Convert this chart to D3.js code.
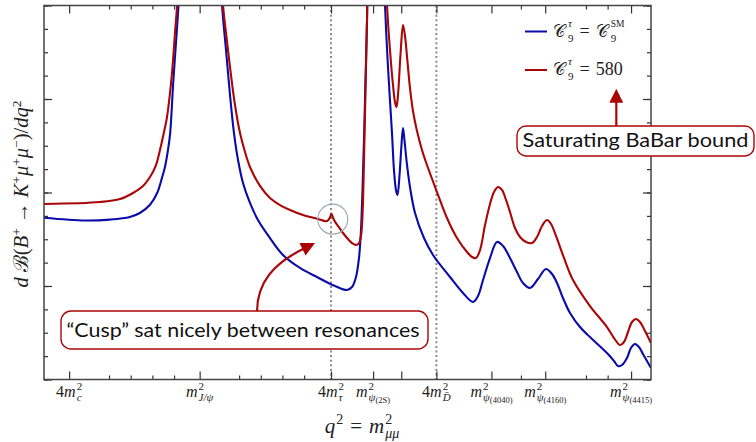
<!DOCTYPE html>
<html>
<head>
<meta charset="utf-8">
<script src="https://cdn.jsdelivr.net/npm/d3@7"></script>
<style>
  body { margin: 0; background: #fff; }
  text { font-family: "Liberation Serif", "DejaVu Serif", serif; fill: #222; white-space: pre; }
  .note { font-family: "Lato", "DejaVu Sans", sans-serif; fill: #111; }
</style>
</head>
<body>
<svg id="chart" width="756" height="442"></svg>
<script>
// x: q^2 (GeV^2), y: dB/dq^2 (arbitrary units)
var qSM = [6.00, 6.95, 7.52, 7.98, 8.21, 8.44, 8.61, 8.72, 8.79, 8.86, 8.91, 8.98, 9.06, 9.11, 9.59,
  10.105, 10.198, 10.29, 10.382, 10.475, 10.59, 10.751, 10.935, 11.212, 11.512, 11.904, 12.296, 12.711, 12.988,
  13.104, 13.196, 13.265, 13.311, 13.346, 13.38, 13.415, 13.45, 13.59,
  13.865, 13.934, 14.026, 14.072, 14.118, 14.153, 14.20, 14.245, 14.28, 14.314, 14.36, 14.441, 14.557,
  14.764, 14.972, 15.364, 15.664, 15.895, 16.01, 16.126, 16.287, 16.448, 16.587, 16.748, 16.909, 17.048,
  17.209, 17.394, 17.578, 17.717, 17.832, 17.97, 18.132, 18.362, 18.593, 18.985, 19.147, 19.239, 19.331,
  19.446, 19.538, 19.63, 19.723, 19.815, 20.00];
var bSM = [1.73, 1.70, 1.71, 1.738, 1.781, 1.866, 1.995, 2.155, 2.273, 2.455, 2.636, 3.171, 3.706, 4.06, 8.0,
  4.005, 3.524, 3.043, 2.636, 2.348, 2.102, 1.888, 1.706, 1.513, 1.332, 1.193, 1.096, 1.000, 0.957,
  0.989, 1.096, 1.299, 1.599, 2.027, 2.561, 3.203, 3.845, 8.0,
  4.005, 3.342, 2.636, 2.24, 2.027, 1.973, 2.187, 2.508, 2.69, 2.561, 2.348, 2.059, 1.781,
  1.513, 1.332, 1.096, 0.925, 0.829, 0.893, 1.064, 1.299, 1.471, 1.428, 1.299, 1.15, 1.032,
  0.979, 1.075, 1.182, 1.128, 1.032, 0.872, 0.711, 0.561, 0.454, 0.283, 0.198, 0.144, 0.155,
  0.23, 0.337, 0.38, 0.348, 0.273, 0.123];

var qNP = [6.00, 7.292, 7.753, 8.053, 8.283, 8.445, 8.583, 8.675, 8.768, 8.837, 8.952, 9.021, 9.079, 9.59,
  10.128, 10.198, 10.29, 10.405, 10.521, 10.636, 10.751, 10.982, 11.212, 11.443, 11.674, 11.974, 12.32, 12.527,
  12.631, 12.689, 12.781, 12.896, 13.011, 13.104, 13.196, 13.265, 13.311, 13.346, 13.38, 13.415, 13.45, 13.59,
  13.911, 13.98, 14.049, 14.095, 14.13, 14.165, 14.222, 14.28, 14.326, 14.384, 14.441, 14.51, 14.603, 14.718,
  14.833, 15.064, 15.295, 15.525, 15.756, 15.872, 15.964, 16.057, 16.172, 16.287, 16.379, 16.472, 16.563,
  16.656, 16.748, 16.863, 16.979, 17.117, 17.255, 17.37, 17.486, 17.601, 17.694, 17.809, 17.993, 18.201,
  18.593, 18.985, 19.147, 19.285, 19.377, 19.469, 19.561, 19.654, 19.746, 19.861, 20.00];
var bNP = [1.877, 1.898, 1.93, 1.995, 2.07, 2.166, 2.294, 2.455, 2.647, 2.807, 3.278, 3.706, 4.059, 8.0,
  4.005, 3.706, 3.342, 2.936, 2.636, 2.433, 2.273, 2.07, 1.941, 1.866, 1.813, 1.759, 1.717, 1.695,
  1.775, 1.706, 1.642, 1.567, 1.503, 1.459, 1.438, 1.459, 1.535, 1.759, 2.347, 3.096, 3.845, 8.0,
  4.005, 3.524, 3.15, 2.968, 2.914, 3.043, 3.471, 3.791, 3.674, 3.396, 3.118, 2.872, 2.658, 2.455,
  2.294, 2.005, 1.727, 1.513, 1.364, 1.31, 1.299, 1.385, 1.652, 1.877, 2.005, 2.059, 2.027,
  1.92, 1.791, 1.62, 1.524, 1.471, 1.459, 1.524, 1.642, 1.706, 1.663, 1.535, 1.30, 1.064,
  0.786, 0.561, 0.443, 0.369, 0.401, 0.508, 0.615, 0.647, 0.615, 0.519, 0.39];
var cuspQ = 12.631;

// tick positions and labels
var tickQ = [6.58, 9.59, 12.62, 13.59, 15.05, 16.32, 17.56, 19.54];
var tickBase = ["4m", "m", "4m", "m", "4m", "m", "m", "m"];
var tickSub = ["c", "J/ψ", "τ", "ψ", "D̄", "ψ", "ψ", "ψ"];
var tickSub2 = ["", "", "", "(2S)", "", "(4040)", "(4160)", "(4415)"];
var extraMajorQ = [14.24];
var minorQ = [7.5, 8, 8.5, 9, 10.5, 11, 11.5, 12, 17, 18.5, 19];
var yMajor = [0, 1, 2, 3, 4];
var yMinor = d3.range(0, 4.01, 0.25);
var thresholdQ = [12.62, 15.05];

var seriesNames = ["SM", "580"];
var colors = ["#0b0baa", "#aa0606"];

var svg = d3.select("#chart");
var x = d3.scaleLinear().domain([6, 20]).range([44, 651]);
var y = d3.scaleLinear().domain([0, 4]).range([379.5, 5.5]);
var x0 = x.range()[0], x1 = x.range()[1], y0 = y.range()[0], y1 = y.range()[1];

svg.append("clipPath").attr("id", "clip")
  .append("rect").attr("x", x0).attr("y", y1).attr("width", x1 - x0).attr("height", y0 - y1);

// threshold dotted lines
svg.selectAll(".thr").data(thresholdQ).enter().append("line")
  .attr("x1", function(d) { return x(d); }).attr("x2", function(d) { return x(d); })
  .attr("y1", y1).attr("y2", y0)
  .attr("stroke", "#8a8a8a").attr("stroke-width", 2).attr("stroke-dasharray", "2,2.6");

// ticks on all four sides, pointing inward
function ticks(axis, vals, size, tr) {
  var g = svg.append("g").attr("transform", tr)
    .call(axis.tickValues(vals).tickSize(-size).tickFormat(""));
  g.select(".domain").remove();
  g.selectAll("line").attr("stroke", "#333").attr("stroke-width", 1.2);
}
var xMaj = tickQ.concat(extraMajorQ);
ticks(d3.axisBottom(x), xMaj, 8, "translate(0," + y0 + ")");
ticks(d3.axisBottom(x), minorQ, 4, "translate(0," + y0 + ")");
ticks(d3.axisTop(x), xMaj, 8, "translate(0," + y1 + ")");
ticks(d3.axisTop(x), minorQ, 4, "translate(0," + y1 + ")");
ticks(d3.axisLeft(y), yMajor, 8, "translate(" + x0 + ",0)");
ticks(d3.axisLeft(y), yMinor, 4, "translate(" + x0 + ",0)");
ticks(d3.axisRight(y), yMajor, 8, "translate(" + x1 + ",0)");
ticks(d3.axisRight(y), yMinor, 4, "translate(" + x1 + ",0)");

// curves (the red one is split at the cusp so it stays sharp)
var line = d3.line()
  .x(function(d) { return x(d[0]); })
  .y(function(d) { return y(d[1]); })
  .curve(d3.curveCatmullRom.alpha(0.5));
var sm = d3.zip(qSM, bSM), np = d3.zip(qNP, bNP);
var pieces = [
  { d: sm, c: colors[0] },
  { d: np.filter(function(p) { return p[0] <= cuspQ; }), c: colors[1] },
  { d: np.filter(function(p) { return p[0] >= cuspQ; }), c: colors[1] }
];
svg.append("g").attr("clip-path", "url(#clip)")
  .selectAll("path").data(pieces).enter().append("path")
  .attr("d", function(p) { return line(p.d); })
  .attr("fill", "none")
  .attr("stroke", function(p) { return p.c; })
  .attr("stroke-width", 2.1)
  .attr("stroke-linejoin", "round");

// frame
svg.append("rect").attr("x", x0).attr("y", y1).attr("width", x1 - x0).attr("height", y0 - y1)
  .attr("fill", "none").attr("stroke", "#444").attr("stroke-width", 1.5);

// small math builder: pieces placed left to right, "back" stacks on previous piece
function build(g, items) {
  var maxEnd = 0, startPrev = 0, prevEnd = 0;
  items.forEach(function(it) {
    var sx = it.back ? startPrev : (it.after ? prevEnd : maxEnd);
    sx += it.dx || 0;
    var t = g.append("text").attr("x", sx).attr("y", it.dy || 0)
      .style("font-size", it.s + "px")
      .style("font-style", it.i ? "italic" : "normal")
      .text(it.t);
    var w = t.node().getComputedTextLength();
    startPrev = sx;
    prevEnd = sx + w;
    maxEnd = Math.max(maxEnd, prevEnd);
  });
  return maxEnd;
}
function baseItems(str, size) {
  return str.split("").map(function(c) {
    return { t: c, s: size, i: !/[0-9()]/.test(c) };
  });
}

// x tick labels
tickQ.forEach(function(q, k) {
  var g = svg.append("g");
  var items = baseItems(tickBase[k], 16);
  items.push({ t: "2", s: 11, dy: -7.5, dx: 1 });
  items.push({ t: tickSub[k], s: 11, dy: 3.5, i: true, back: true });
  if (tickSub2[k]) items.push({ t: tickSub2[k], s: 8.5, dy: 6, after: true });
  var w = build(g, items);
  g.attr("transform", "translate(" + (x(q) - w / 2) + ",397)");
});

// x axis title
var gx = svg.append("g");
var wx = build(gx, [
  { t: "q", s: 21, i: true },
  { t: "2", s: 14, dy: -9, dx: 1 },
  { t: "=", s: 21, dx: 7 },
  { t: "m", s: 21, i: true, dx: 7 },
  { t: "2", s: 14, dy: -9, dx: 1 },
  { t: "μμ", s: 14, dy: 5, i: true, back: true }
]);
gx.attr("transform", "translate(" + (362 - wx / 2) + ",433)");

// y axis title
svg.append("text")
  .attr("transform", "translate(28,194) rotate(-90)")
  .attr("text-anchor", "middle")
  .style("font-size", "20.5px")
  .html('<tspan font-style="italic">d</tspan> ℬ(<tspan font-style="italic">B</tspan>' +
    '<tspan dy="-7" font-size="13.5">+</tspan><tspan dy="7"> → </tspan>' +
    '<tspan font-style="italic">K</tspan><tspan dy="-7" font-size="13.5">+</tspan>' +
    '<tspan dy="7" font-style="italic">μ</tspan><tspan dy="-7" font-size="13.5">+</tspan>' +
    '<tspan dy="7" font-style="italic">μ</tspan><tspan dy="-7" font-size="13.5">−</tspan>' +
    '<tspan dy="7">)/</tspan><tspan font-style="italic">dq</tspan>' +
    '<tspan dy="-7" font-size="13.5">2</tspan>');

// legend
var legY = [31.5, 70];
var legRhs = [[{ t: "𝒞", s: 17, dx: 6 }, { t: "SM", s: 9.5, dy: -10, dx: 3 }, { t: "9", s: 11, dy: 5, back: true }],
  [{ t: "580", s: 18, dx: 6 }]];
seriesNames.forEach(function(name, k) {
  svg.append("line").attr("x1", 525).attr("x2", 547).attr("y1", legY[k]).attr("y2", legY[k])
    .attr("stroke", colors[k]).attr("stroke-width", 2);
  var g = svg.append("g").attr("transform", "translate(553," + (legY[k] + 5) + ")");
  build(g, [
    { t: "𝒞", s: 17 },
    { t: "τ", s: 11, dy: -10, dx: 3, i: true },
    { t: "9", s: 11, dy: 5, back: true },
    { t: "=", s: 18, dx: 6 }
  ].concat(legRhs[k]));
});

// annotations
var red = "#aa0606";
var defs = svg.append("defs");
defs.append("marker").attr("id", "head").attr("viewBox", "0 0 10 10")
  .attr("refX", 2).attr("refY", 5).attr("markerWidth", 16).attr("markerHeight", 14)
  .attr("markerUnits", "userSpaceOnUse").attr("orient", "auto")
  .append("path").attr("d", "M0,0 L10,5 L0,10 Z").attr("fill", red);

// cusp circle
svg.append("circle").attr("cx", x(12.66)).attr("cy", y(1.715)).attr("r", 15)
  .attr("fill", "none").attr("stroke", "#9aa6b4").attr("stroke-width", 1.1);

// saturating BaBar arrow and box
svg.append("line").attr("x1", x(19.2)).attr("x2", x(19.2)).attr("y1", 126).attr("y2", 100)
  .attr("stroke", red).attr("stroke-width", 2.2).attr("marker-end", "url(#head)");
svg.append("rect").attr("x", 517).attr("y", 126).attr("width", 237).attr("height", 30).attr("rx", 9)
  .attr("fill", "#fff").attr("stroke", red).attr("stroke-width", 1.4);
svg.append("text").attr("class", "note").attr("x", 635.5).attr("y", 146.5)
  .attr("text-anchor", "middle").style("font-size", "20px")
  .attr("textLength", 226).attr("lengthAdjust", "spacingAndGlyphs")
  .text("Saturating BaBar bound");

// cusp arrow and box
svg.append("path").attr("d", "M257,312 C257,282 274,263 305,248")
  .attr("fill", "none").attr("stroke", red).attr("stroke-width", 2.2).attr("marker-end", "url(#head)");
svg.append("rect").attr("x", 61).attr("y", 311).attr("width", 367).attr("height", 38).attr("rx", 10)
  .attr("fill", "#fff").attr("stroke", red).attr("stroke-width", 1.4);
svg.append("text").attr("class", "note").attr("x", 243).attr("y", 337)
  .attr("text-anchor", "middle").style("font-size", "20px")
  .attr("textLength", 353).attr("lengthAdjust", "spacingAndGlyphs")
  .text("“Cusp” sat nicely between resonances");
</script>
</body>
</html>
